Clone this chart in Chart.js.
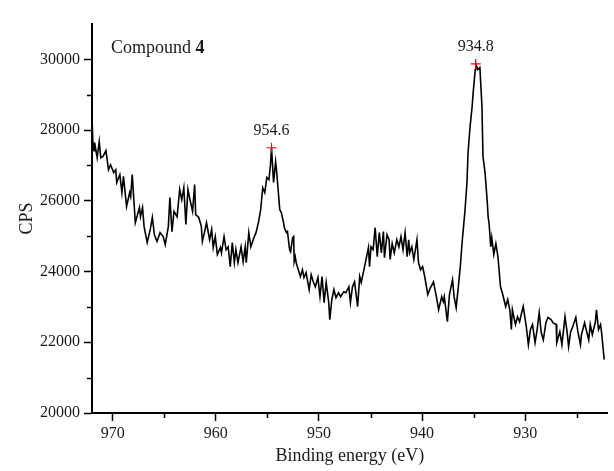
<!DOCTYPE html>
<html>
<head>
<meta charset="utf-8">
<script src="https://cdn.jsdelivr.net/npm/chart.js@4/dist/chart.umd.min.js"></script>
<style>
  html, body { margin: 0; padding: 0; background: #fff; }
  #wrap { width: 614px; height: 471px; }
</style>
</head>
<body>
<div id="wrap"><canvas id="xpsChart" width="614" height="471"></canvas></div>
<script>
// XPS spectrum (binding energy in eV, counts per second)
const energy = [
  972.0, 971.9, 971.8, 971.75, 971.5, 971.3, 971.15, 970.95, 970.65, 970.4,
  970.2, 969.9, 969.7, 969.6, 969.3, 969.1, 968.95, 968.65, 968.35, 968.25,
  968.1, 967.8, 967.4, 967.3, 967.1, 966.95, 966.65, 966.35, 966.15, 965.95,
  965.7, 965.4, 965.1, 964.9, 964.6, 964.45, 964.25, 964.05, 963.75, 963.5,
  963.3, 963.1, 962.9, 962.7, 962.5, 962.25, 962.05, 961.95, 961.65, 961.4,
  961.3, 961.1, 960.9, 960.6, 960.4, 960.25, 960.05, 959.85, 959.55, 959.45,
  959.2, 959.0, 958.8, 958.6, 958.4, 958.2, 958.05, 957.85, 957.55, 957.35,
  957.15, 957.05, 956.8, 956.6, 956.3, 956.1, 955.85, 955.65, 955.45, 955.25,
  955.05, 954.85, 954.7, 954.6, 954.4, 954.2, 954.1, 953.8, 953.65, 953.45,
  953.35, 953.15, 953.05, 952.85, 952.75, 952.55, 952.45, 952.4, 952.3, 952.2,
  952.1, 951.8, 951.6, 951.45, 951.25, 950.95, 950.75, 950.55, 950.35, 950.1,
  949.9, 949.7, 949.5, 949.3, 949.05, 948.95, 948.75, 948.55, 948.35, 948.1,
  947.9, 947.6, 947.4, 947.1, 946.95, 946.75, 946.55, 946.25, 946.05, 945.9,
  945.7, 945.5, 945.2, 945.1, 944.95, 944.75, 944.55, 944.35, 944.15, 943.95,
  943.75, 943.65, 943.4, 943.2, 943.1, 942.9, 942.7, 942.45, 942.25, 942.05,
  941.85, 941.65, 941.45, 941.3, 941.2, 941.0, 940.8, 940.5, 940.35, 940.15,
  939.95, 939.75, 939.45, 939.2, 938.9, 938.6, 938.4, 938.1, 937.95, 937.85,
  937.55, 937.35, 937.05, 936.9, 936.7, 936.5, 936.3, 936.1, 935.85, 935.65,
  935.55, 935.35, 935.15, 935.05, 934.85, 934.8, 934.6, 934.4, 934.2, 934.1,
  933.9, 933.7, 933.6, 933.5, 933.35, 933.25, 933.05, 932.85, 932.65, 932.5,
  932.4, 932.2, 931.9, 931.7, 931.5, 931.35, 931.25, 930.95, 930.75, 930.55,
  930.35, 930.2, 929.9, 929.7, 929.5, 929.3, 929.05, 928.85, 928.65, 928.45,
  928.25, 928.0, 927.8, 927.5, 927.3, 927.0, 926.95, 926.65, 926.45, 926.15,
  925.95, 925.8, 925.6, 925.4, 925.1, 924.9, 924.65, 924.55, 924.25, 924.05,
  923.85, 923.7, 923.5, 923.2, 923.1, 922.9, 922.7, 922.6, 922.35
];
const cps = [
  28380, 27530, 27420, 27650, 27220, 27680, 27220, 27250, 27420, 26880,
  27020, 26800, 26880, 26520, 26740, 26230, 26690, 25840, 26230, 26120,
  26740, 25380, 25810, 25550, 25810, 25270, 24820, 25190, 25530, 25040,
  24850, 25100, 24990, 24760, 25270, 26090, 25130, 25700, 25550, 26320,
  26030, 26370, 25330, 26320, 26030, 25700, 26460, 25610, 25530, 25270,
  24850, 25100, 25380, 24900, 25190, 24680, 24990, 24480, 24680, 24530,
  24990, 24620, 24700, 24140, 24820, 24250, 24620, 24250, 24700, 24280,
  24700, 24250, 25100, 24700, 24960, 25100, 25410, 25750, 26370, 26230,
  26660, 26600, 27020, 27500, 26520, 27110, 26830, 25750, 25670, 25410,
  25240, 25100, 25130, 24620, 24560, 24960, 24990, 24280, 24420, 24250,
  24140, 23860, 24050, 23830, 23970, 23490, 23910, 23710, 23570, 23830,
  23290, 23860, 23120, 23690, 23120, 22640, 23210, 23490, 23260, 23400,
  23290, 23430, 23400, 23570, 23120, 23570, 23710, 23010, 23860, 23690,
  23970, 24250, 24680, 24140, 24700, 24620, 25240, 24420, 25100, 24530,
  25130, 24390, 25040, 24900, 24340, 24790, 24530, 24900, 24700, 24990,
  24620, 25100, 24420, 24900, 24530, 24700, 24340, 24900, 24250, 24050,
  24140, 23860, 23350, 23540, 23710, 23260, 22920, 23290, 23150, 23290,
  22580, 23350, 23770, 23290, 22980, 23540, 24140, 24900, 25700, 26520,
  27360, 28100, 28670, 29060, 29710, 29870, 29710, 29770, 28670, 27250,
  26800, 26030, 25550, 25330, 24700, 24960, 24480, 24790, 24420, 23910,
  23570, 23370, 23010, 23210, 22920, 22360, 22920, 22500, 22720, 22580,
  22840, 23010, 22440, 21930, 22360, 22500, 21990, 22360, 22840, 22270,
  22070, 22550, 22700, 22640, 22550, 22500, 21990, 22300, 21930, 22720,
  22300, 21880, 22300, 22440, 22700, 22300, 21930, 22220, 22550, 22300,
  22070, 22500, 22220, 22580, 22920, 22360, 22500, 22270, 21510
];

// marked peaks
const peakEnergy = [954.6, 934.8];
const peakCps = [27500, 29870];
const peakLabels = ['954.6', '934.8'];

// axis ticks
const xMajorTicks = [970, 960, 950, 940, 930];
const xMinorTicks = [965, 955, 945, 935, 925];
const yMajorTicks = [20000, 22000, 24000, 26000, 28000, 30000];
const yMinorTicks = [21000, 23000, 25000, 27000, 29000];

const serif = '"Liberation Serif", "Times New Roman", serif';
const ink = '#1a1a1a';

// minor ticks, peak labels and the "Compound 4" note
const extras = {
    id: 'extras',
    afterDraw(chart) {
        const ctx = chart.ctx;
        const xs = chart.scales.x;
        const ys = chart.scales.y;
        const area = chart.chartArea;
        ctx.save();
        ctx.strokeStyle = '#000';
        ctx.lineWidth = 1.5;
        xMinorTicks.forEach(function (v) {
            const px = Math.round(xs.getPixelForValue(v)) + 0.5;
            ctx.beginPath();
            ctx.moveTo(px, area.bottom);
            ctx.lineTo(px, area.bottom + 5);
            ctx.stroke();
        });
        yMinorTicks.forEach(function (v) {
            const py = Math.round(ys.getPixelForValue(v)) + 0.5;
            ctx.beginPath();
            ctx.moveTo(area.left, py);
            ctx.lineTo(area.left - 5, py);
            ctx.stroke();
        });

        ctx.fillStyle = ink;
        ctx.font = '16px ' + serif;
        ctx.textAlign = 'center';
        ctx.textBaseline = 'bottom';
        peakEnergy.forEach(function (e, i) {
            ctx.fillText(peakLabels[i], xs.getPixelForValue(e), ys.getPixelForValue(peakCps[i]) - 9);
        });

        ctx.textAlign = 'left';
        ctx.textBaseline = 'alphabetic';
        const nx = area.left + 19;
        const ny = area.top + 29;
        ctx.font = '18px ' + serif;
        const w = ctx.measureText('Compound ').width;
        ctx.fillText('Compound ', nx, ny);
        ctx.font = 'bold 18px ' + serif;
        ctx.fillText('4', nx + w, ny);
        ctx.restore();
    }
};

const ctx = document.getElementById('xpsChart').getContext('2d');
const xpsChart = new Chart(ctx, {
    type: 'scatter',
    data: {
        datasets: [{
            data: energy.map(function (e, i) { return { x: e, y: cps[i] }; }),
            showLine: true,
            borderColor: '#000',
            borderWidth: 1.6,
            pointRadius: 0,
            tension: 0,
            order: 2
        }, {
            data: peakEnergy.map(function (e, i) { return { x: e, y: peakCps[i] }; }),
            showLine: false,
            pointStyle: 'cross',
            pointRadius: 5,
            borderColor: '#ff0000',
            borderWidth: 1.2,
            order: 1
        }]
    },
    options: {
        responsive: false,
        animation: false,
        layout: { padding: { top: 24, right: 0, left: 0, bottom: 0 } },
        plugins: {
            legend: { display: false },
            tooltip: { enabled: false }
        },
        scales: {
            x: {
                type: 'linear',
                reverse: true,
                min: 922,
                max: 972,
                afterBuildTicks: function (scale) {
                    scale.ticks = xMajorTicks.map(function (v) { return { value: v }; });
                },
                afterFit: function (scale) { scale.height = 58; },
                grid: { drawOnChartArea: false, tickLength: 8, tickColor: '#000', tickWidth: 1.5 },
                border: { color: '#000', width: 2 },
                ticks: {
                    color: ink, font: { family: serif, size: 16 }, padding: 3, maxRotation: 0, autoSkip: false,
                    callback: function (v) { return String(v); }
                },
                title: { display: true, text: 'Binding energy (eV)', color: ink, font: { family: serif, size: 18 }, padding: { top: 0, bottom: 4 } }
            },
            y: {
                min: 20000,
                max: 31000,
                afterBuildTicks: function (scale) {
                    scale.ticks = yMajorTicks.map(function (v) { return { value: v }; });
                },
                afterFit: function (scale) { scale.width = 92; },
                grid: { drawOnChartArea: false, tickLength: 8, tickColor: '#000', tickWidth: 1.5 },
                border: { color: '#000', width: 2 },
                ticks: {
                    color: ink, font: { family: serif, size: 16 }, padding: 4, autoSkip: false,
                    callback: function (v) { return String(v); }
                },
                title: { display: true, text: 'CPS', color: ink, font: { family: serif, size: 18 }, padding: { top: 16, bottom: 0 } }
            }
        }
    },
    plugins: [extras]
});
</script>
</body>
</html>
